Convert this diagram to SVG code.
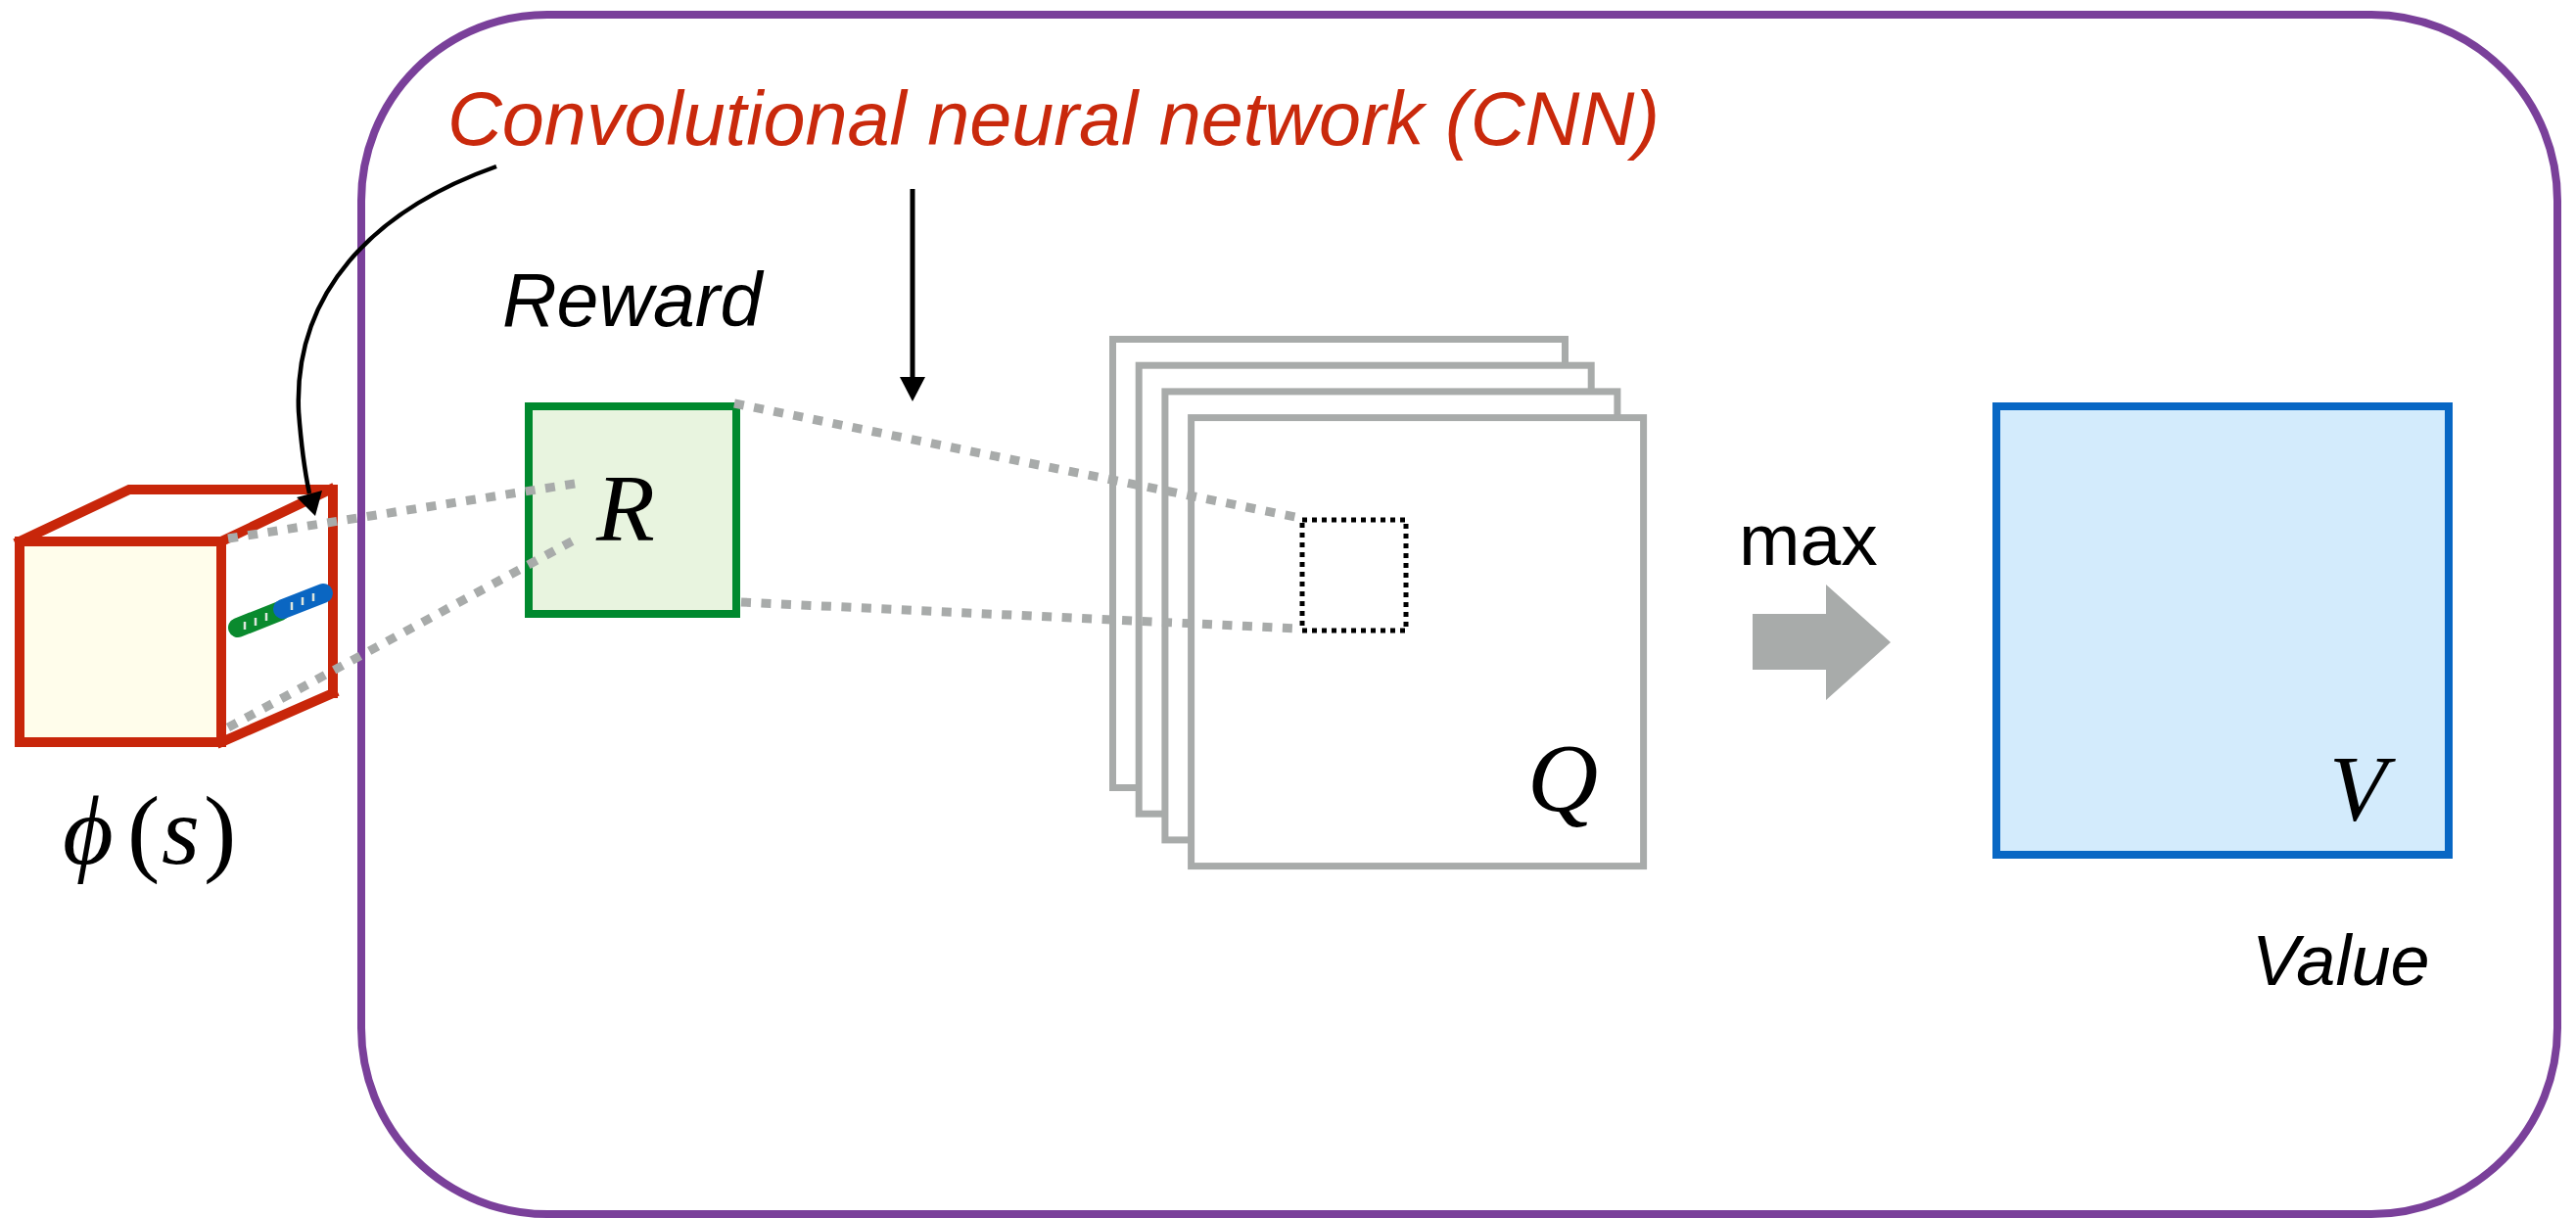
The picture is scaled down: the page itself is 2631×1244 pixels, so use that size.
<svg xmlns="http://www.w3.org/2000/svg" width="2631" height="1244" viewBox="0 0 2631 1244">
  <defs>
    <style>
      .sans { font-family: "Liberation Sans", Arial, sans-serif; }
      .math { font-family: "Liberation Serif", "DejaVu Serif", serif; font-style: italic; fill: #000; }
      .dot { fill: none; stroke: #A8ABAA; stroke-width: 9; stroke-dasharray: 10 10.5; }
      .qrect { fill: #FFFFFF; stroke: #A8ABAA; stroke-width: 7; }
      .cube { stroke: #C8260A; stroke-width: 10; fill: none; stroke-linecap: square; }
    </style>
  </defs>
  <rect x="0" y="0" width="2631" height="1244" fill="#FFFFFF"/>

  <g id="cnn-frame">
    <rect x="369" y="15" width="2243" height="1225" rx="190" ry="190" fill="none" stroke="#7A409A" stroke-width="8"/>
  </g>

  <g id="title">
    <text class="sans" x="457" y="148" font-size="77" font-style="italic" fill="#C9290C" textLength="1238" lengthAdjust="spacingAndGlyphs">Convolutional neural network (CNN)</text>
  </g>

  <g id="state-cube">
    <rect x="20" y="553" width="206" height="205" fill="#FFFDEB" stroke="none"/>
    <path class="cube" d="M20 553 L132 500 L337 500 M226 553 L337 500 M340 500 L340 708 M226 758 L340 708"/>
    <rect x="20" y="553" width="206" height="205" class="cube"/>
    <line x1="243" y1="641" x2="286" y2="624" stroke="#0A8A2E" stroke-width="20" stroke-linecap="round"/>
    <line x1="289" y1="622" x2="330" y2="606" stroke="#0A66C2" stroke-width="20" stroke-linecap="round"/>
    <g stroke="#DDE6DD" stroke-width="2.5">
      <line x1="250" y1="635" x2="250" y2="643"/>
      <line x1="261" y1="631" x2="261" y2="639"/>
      <line x1="272" y1="626" x2="272" y2="634"/>
      <line x1="298" y1="615" x2="298" y2="623"/>
      <line x1="309" y1="610" x2="309" y2="618"/>
      <line x1="320" y1="606" x2="320" y2="614"/>
    </g>
    <text class="math" font-size="100" y="882"><tspan x="64">ϕ</tspan><tspan x="130" font-style="normal">(</tspan><tspan x="165">s</tspan><tspan x="208" font-style="normal">)</tspan></text>
  </g>

  <g id="reward">
    <text class="sans" x="513" y="333" font-size="77" font-style="italic" fill="#000">Reward</text>
    <rect x="540" y="415" width="212" height="212" fill="#E8F4DF" stroke="#00892E" stroke-width="8"/>
    <text class="math" x="609" y="552" font-size="98">R</text>
  </g>

  <g id="q-stack">
    <rect class="qrect" x="1136.5" y="346.5" width="462" height="458"/>
    <rect class="qrect" x="1163.2" y="373.2" width="462" height="458"/>
    <rect class="qrect" x="1189.9" y="399.9" width="462" height="458"/>
    <rect class="qrect" x="1216.6" y="426.6" width="462" height="458"/>
    <rect x="1330" y="531" width="106" height="113" fill="none" stroke="#000" stroke-width="5" stroke-dasharray="5 5"/>
    <text class="math" x="1560" y="828" font-size="100">Q</text>
  </g>

  <g id="max-op">
    <text class="sans" x="1776" y="577" font-size="75" fill="#000">max</text>
    <polygon points="1790,627 1865,627 1865,597 1931,656 1865,715 1865,684 1790,684" fill="#A8ABAA"/>
  </g>

  <g id="value">
    <rect x="2039" y="415" width="462" height="458" fill="#D3EBFC" stroke="#0867C4" stroke-width="8"/>
    <text class="math" x="2379" y="838" font-size="96">V</text>
    <text class="sans" x="2300" y="1006" font-size="72" font-style="italic" fill="#000">Value</text>
  </g>

  <g id="connectors">
    <line class="dot" x1="233" y1="550" x2="593" y2="493"/>
    <line class="dot" x1="233" y1="743" x2="593" y2="548"/>
    <line class="dot" x1="750" y1="412" x2="1328" y2="529"/>
    <line class="dot" x1="757" y1="615" x2="1326" y2="642"/>
    <path d="M507 170 C380 215 300 300 305 420 C308 460 312 485 316 504" fill="none" stroke="#000" stroke-width="4.5"/>
    <polygon points="303,508 329,501 322,527" fill="#000"/>
    <line x1="932" y1="193" x2="932" y2="388" stroke="#000" stroke-width="5"/>
    <polygon points="919,385 945,385 932,410" fill="#000"/>
  </g>
</svg>
